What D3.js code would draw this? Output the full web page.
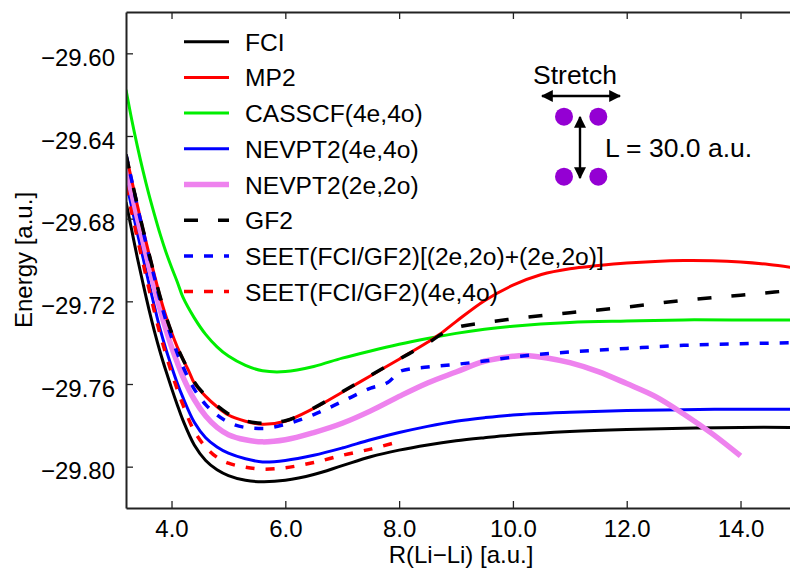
<!DOCTYPE html>
<html><head><meta charset="utf-8">
<script src="https://cdn.jsdelivr.net/npm/d3@7"></script>
<style>
html,body{margin:0;padding:0;background:#fff;}
svg{display:block;font-family:"Liberation Sans",Arial,Helvetica,sans-serif;}
</style></head>
<body>
<svg id="chart" width="790" height="569"></svg>
<script>
// ---------------- data ----------------
const rCommon = [3.2,3.3,3.4,3.5,3.6,3.7,3.8,3.9,4.0,4.1,4.2,4.4,4.6,4.8,5.0,5.3,5.6,6.0,6.5,7.0,7.5,8.0,8.5,9.0,9.5,10.0,11.0,12.0,13.0,14.0,15.0];

const fciE = [-29.672,-29.6855,-29.699,-29.7115,-29.7235,-29.7345,-29.7445,-29.7535,-29.762,-29.770,-29.7775,-29.7895,-29.797,-29.8015,-29.8043,-29.8066,-29.8073,-29.8066,-29.8038,-29.7995,-29.7952,-29.792,-29.7895,-29.7875,-29.786,-29.7847,-29.783,-29.782,-29.7814,-29.781,-29.781];

const nev4E = [-29.662,-29.6745,-29.687,-29.699,-29.711,-29.7225,-29.7335,-29.743,-29.7515,-29.7595,-29.7665,-29.7785,-29.786,-29.7905,-29.7935,-29.7962,-29.7977,-29.797,-29.7945,-29.791,-29.787,-29.7835,-29.7805,-29.778,-29.7763,-29.775,-29.7737,-29.7728,-29.7724,-29.7722,-29.7722];

const casE = [-29.6176,-29.632,-29.645,-29.657,-29.668,-29.678,-29.6875,-29.696,-29.7035,-29.7105,-29.718,-29.728,-29.736,-29.742,-29.7465,-29.751,-29.7536,-29.754,-29.7515,-29.7475,-29.744,-29.7408,-29.738,-29.7355,-29.7335,-29.732,-29.7302,-29.7295,-29.729,-29.729,-29.729];

const mp2R = [3.2,3.3,3.4,3.5,3.6,3.7,3.8,3.9,4.0,4.1,4.2,4.3,4.4,4.6,4.8,5.0,5.3,5.6,6.0,6.5,7.0,7.5,8.0,8.5,8.7,9.0,9.5,10.0,10.5,11.0,11.5,12.0,12.5,13.0,13.5,14.0,14.5,15.0];
const mp2E = [-29.649,-29.6613,-29.6735,-29.6853,-29.6965,-29.7073,-29.7178,-29.727,-29.735,-29.742,-29.748,-29.7535,-29.7595,-29.766,-29.771,-29.775,-29.778,-29.7795,-29.778,-29.7718,-29.764,-29.756,-29.748,-29.7398,-29.7362,-29.7298,-29.7197,-29.7122,-29.707,-29.7042,-29.7027,-29.7015,-29.7007,-29.7003,-29.7004,-29.701,-29.7022,-29.704];

const gf2R = [3.2,3.3,3.4,3.5,3.6,3.7,3.8,3.9,4.0,4.1,4.2,4.3,4.4,4.6,4.8,5.0,5.3,5.6,6.0,6.5,7.0,7.5,8.0,8.5,8.8,9.0,9.5,10.0,11.0,12.0,13.0,14.0,15.0];
const gf2E = [-29.649,-29.6613,-29.6735,-29.6853,-29.6965,-29.7073,-29.7178,-29.727,-29.735,-29.742,-29.748,-29.7535,-29.759,-29.7655,-29.7705,-29.7745,-29.7778,-29.779,-29.7778,-29.7716,-29.7638,-29.7558,-29.748,-29.7403,-29.735,-29.7328,-29.7303,-29.7285,-29.7255,-29.7228,-29.7195,-29.717,-29.7145];

const nev2R = [3.2,3.3,3.4,3.5,3.6,3.7,3.8,3.9,4.0,4.1,4.2,4.4,4.6,4.8,5.0,5.3,5.6,6.0,6.5,7.0,7.5,8.0,8.5,9.0,9.5,10.0,10.2,10.6,11.0,11.5,12.0,12.5,13.0,13.5,14.0];
const nev2E = [-29.6555,-29.6675,-29.6795,-29.691,-29.7025,-29.7135,-29.724,-29.7335,-29.742,-29.7495,-29.7565,-29.7675,-29.7755,-29.781,-29.7845,-29.787,-29.788,-29.787,-29.7835,-29.779,-29.773,-29.766,-29.7595,-29.7542,-29.749,-29.7466,-29.7462,-29.7474,-29.7497,-29.754,-29.7598,-29.766,-29.7745,-29.784,-29.7948];

const seet2R = [3.2,3.3,3.4,3.5,3.6,3.7,3.8,3.9,4.0,4.1,4.2,4.3,4.4,4.6,4.8,5.0,5.3,5.6,6.0,6.5,7.0,7.5,7.8,8.05,8.5,9.0,9.5,10.0,11.0,12.0,13.0,14.0,15.0];
const seet2E = [-29.649,-29.6615,-29.674,-29.686,-29.6975,-29.7085,-29.7195,-29.729,-29.7375,-29.745,-29.7515,-29.7575,-29.7625,-29.770,-29.775,-29.7785,-29.781,-29.7815,-29.7795,-29.7748,-29.7685,-29.762,-29.7593,-29.7535,-29.7518,-29.7505,-29.7489,-29.747,-29.7445,-29.7428,-29.7413,-29.7405,-29.740];

const seet4R = [3.2,3.3,3.4,3.5,3.6,3.7,3.8,3.9,4.0,4.1,4.2,4.4,4.6,4.8,5.0,5.3,5.6,6.0,6.5,7.0,7.5,7.9];
const seet4E = [-29.6645,-29.677,-29.6895,-29.7015,-29.7135,-29.725,-29.736,-29.7455,-29.7545,-29.7625,-29.770,-29.7828,-29.7905,-29.7955,-29.7983,-29.8003,-29.8012,-29.8005,-29.798,-29.7945,-29.7915,-29.7886];

const seriesNames = ["FCI","MP2","CASSCF(4e,4o)","NEVPT2(4e,4o)","NEVPT2(2e,2o)","GF2","SEET(FCI/GF2)[(2e,2o)+(2e,2o)]","SEET(FCI/GF2)(4e,4o)"];
const xTicks = [4,6,8,10,12,14];
const yTicks = [-29.60,-29.64,-29.68,-29.72,-29.76,-29.80];

// ---------------- styles ----------------
const smooth = d3.curveCatmullRom.alpha(0.5);
const series = [
  {name:seriesNames[0], r:rCommon, e:fciE,   color:"#000000", w:3,   dash:null,   curve:smooth},
  {name:seriesNames[1], r:mp2R,    e:mp2E,   color:"#ff0000", w:3,   dash:null,   curve:smooth},
  {name:seriesNames[2], r:rCommon, e:casE,   color:"#00ee00", w:3,   dash:null,   curve:smooth},
  {name:seriesNames[3], r:rCommon, e:nev4E,  color:"#0000ff", w:3,   dash:null,   curve:smooth},
  {name:seriesNames[4], r:nev2R,   e:nev2E,  color:"#ee82ee", w:5.5, dash:null,   curve:smooth},
  {name:seriesNames[5], r:gf2R,    e:gf2E,   color:"#000000", w:3.5, dash:"14,20",curve:d3.curveMonotoneX},
  {name:seriesNames[6], r:seet2R,  e:seet2E, color:"#0000ff", w:3.5, dash:"9,11", curve:d3.curveMonotoneX},
  {name:seriesNames[7], r:seet4R,  e:seet4E, color:"#ff0000", w:3.5, dash:"9,11", curve:smooth}
];
// drawing order (back to front)
const drawOrder = [2,0,3,7,4,1,6,5];

const svg = d3.select("#chart");
const L = 126, R = 800, T = 12, B = 508;
const x = d3.scaleLinear().domain([3.2, 3.2 + (R-L)/56.9]).range([L, R]);
const y = d3.scaleLinear().domain([-29.82, -29.58]).range([B, T]);

const defs = svg.append("defs");
defs.append("clipPath").attr("id","clip")
  .append("rect").attr("x",L).attr("y",T).attr("width",R-L).attr("height",B-T);

const plot = svg.append("g").attr("clip-path","url(#clip)");
drawOrder.forEach(i=>{
  const s = series[i];
  const line = d3.line().x(d=>x(d[0])).y(d=>y(d[1])).curve(s.curve);
  plot.append("path")
    .datum(s.r.map((r,j)=>[r,s.e[j]]))
    .attr("fill","none").attr("stroke",s.color).attr("stroke-width",s.w)
    .attr("stroke-dasharray",s.dash)
    .attr("stroke-linejoin","round")
    .attr("d",line);
});

// axes
const axCol = "#222";
const fs = 24;
const gx = svg.append("g").attr("transform",`translate(0,${B})`)
  .call(d3.axisBottom(x).tickValues(xTicks).tickFormat(d3.format(".1f")).tickSizeInner(-7).tickSizeOuter(0).tickPadding(12));
const gxt = svg.append("g").attr("transform",`translate(0,${T})`)
  .call(d3.axisTop(x).tickValues(xTicks).tickFormat("").tickSizeInner(-7).tickSizeOuter(0));
const gy = svg.append("g").attr("transform",`translate(${L},0)`)
  .call(d3.axisLeft(y).tickValues(yTicks).tickFormat(d=>d3.format(".2f")(d).replace("-","\u2212")).tickSizeInner(-7).tickSizeOuter(0).tickPadding(11));
[gx,gxt,gy].forEach(g=>{
  g.select(".domain").attr("stroke",axCol).attr("stroke-width",2);
  g.selectAll(".tick line").attr("stroke",axCol).attr("stroke-width",1.3);
  g.selectAll("text").attr("font-size",fs).attr("fill","#000")
    .attr("font-family","'Liberation Sans',Arial,sans-serif");
});
gy.selectAll(".tick text").attr("dy","0.5em");
gx.selectAll(".tick text").attr("dy","0.72em");

svg.append("text").attr("x",(L+R)/2 - 2).attr("y",563).attr("text-anchor","middle")
  .attr("font-size",fs).text("R(Li\u2212Li) [a.u.]");
svg.append("text").attr("transform",`translate(32,${(T+B)/2}) rotate(-90)`)
  .attr("text-anchor","middle").attr("font-size",fs).text("Energy [a.u.]");

// legend
const lg = svg.append("g");
series.forEach((s,i)=>{
  const yy = 41.7 + i*35.7;
  lg.append("line").attr("x1",184).attr("x2",229).attr("y1",yy).attr("y2",yy)
    .attr("stroke",s.color).attr("stroke-width",s.w).attr("stroke-dasharray",s.dash);
  lg.append("text").attr("x",245).attr("y",yy+9).attr("font-size",24.6).text(s.name);
});

// inset annotation
const ann = svg.append("g");
defs.append("marker").attr("id","ah").attr("viewBox","0 0 10 10").attr("refX",9).attr("refY",5)
  .attr("markerWidth",5).attr("markerHeight",5).attr("markerUnits","strokeWidth").attr("orient","auto-start-reverse")
  .append("path").attr("d","M0,0 L10,5 L0,10 z").attr("fill","#000");
ann.append("text").attr("x",575).attr("y",83.5).attr("text-anchor","middle").attr("font-size",26.5).text("Stretch");
ann.append("line").attr("x1",542).attr("x2",620).attr("y1",96).attr("y2",96)
  .attr("stroke","#000").attr("stroke-width",2.4)
  .attr("marker-start","url(#ah)").attr("marker-end","url(#ah)");
[[564,116.7],[598.3,116.7],[564,176.7],[598.3,176.7]].forEach(p=>{
  ann.append("circle").attr("cx",p[0]).attr("cy",p[1]).attr("r",9).attr("fill","#9400d3");
});
ann.append("line").attr("x1",580).attr("x2",580).attr("y1",117).attr("y2",178)
  .attr("stroke","#000").attr("stroke-width",2.4)
  .attr("marker-start","url(#ah)").attr("marker-end","url(#ah)");
ann.append("text").attr("x",605).attr("y",157).attr("font-size",26.5).text("L = 30.0 a.u.");
</script>
</body></html>
